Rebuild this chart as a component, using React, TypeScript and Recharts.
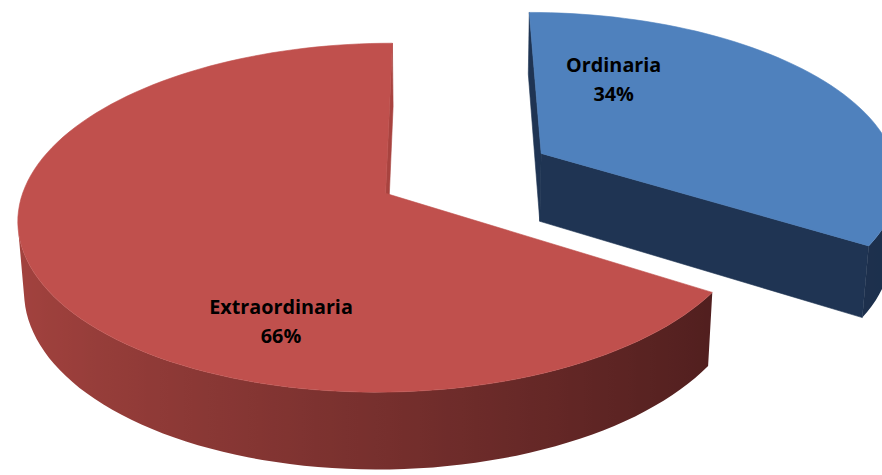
import { PieChart, Pie } from 'recharts';

const CATEGORIES = ['Ordinaria', 'Extraordinaria'];
const SHARES = [34, 66];

const data = CATEGORIES.map((name, i) => ({ name, value: SHARES[i] }));

const TOP_FILL = ['#4f81bd', '#c0504d'];
const FACE_FILL = ['#1f3453', '#a8433f'];
const SIDE_LIGHT = ['#24395c', '#a4433f'];
const SIDE_DARK = ['#1c2f4c', '#4a1c1c'];
// where each label sits, polar offset from its own slice centre
const LABEL_AT = [{ a: 64, r: 0.545 }, { a: 250, r: 0.72 }];

const WIDTH = 882;
const HEIGHT = 475;

// fake 3d camera, units of pie radius
const RAD = Math.PI / 180;
const TILT = 26.5 * RAD;
const DIST = 6.5;
const FX = 2320;
const FY = 2410;
const VX = 441.5;
const VY = 173;
const CAM_X = -0.065;
const THICK = 0.21;
const EXPLODE = 0.25;

const sinT = Math.sin(TILT);
const cosT = Math.cos(TILT);
const CAM_Z = -DIST * cosT;

const project = (x: number, y: number, z: number): [number, number] => {
  const py = y - DIST * sinT;
  const pz = z + DIST * cosT;
  const d = -py * sinT + pz * cosT;
  const v = py * cosT + pz * sinT;
  return [VX + (FX * (x - CAM_X)) / d, VY - (FY * v) / d];
};

const toPoints = (pts: [number, number][]) =>
  pts.map(p => `${p[0].toFixed(1)},${p[1].toFixed(1)}`).join(' ');

const hex = (c: string) => [1, 3, 5].map(i => parseInt(c.slice(i, i + 2), 16));
const mix = (a: string, b: string, t: number) => {
  const ca = hex(a);
  const cb = hex(b);
  return `rgb(${ca.map((v, i) => Math.round(v + (cb[i] - v) * t)).join(',')})`;
};

const facing = (nx: number, nz: number, px: number, pz: number) =>
  nx * (CAM_X - px) + nz * (CAM_Z - pz) > 0;

const sliceOffset = (start: number, end: number) => {
  const mid = ((start + end) / 2) * RAD;
  return [EXPLODE * Math.cos(mid), EXPLODE * Math.sin(mid)];
};

const Slice3D = (props: any) => {
  const { startAngle, endAngle, index } = props;
  const [ox, oz] = sliceOffset(startAngle, endAngle);
  const steps = Math.max(8, Math.ceil(Math.abs(startAngle - endAngle) / 2));
  const angles = Array.from({ length: steps + 1 }, (_, k) => startAngle + ((endAngle - startAngle) * k) / steps);
  const rim = (a: number, y: number) => project(ox + Math.cos(a * RAD), y, oz + Math.sin(a * RAD));

  const faces = [
    [startAngle, startAngle + 90],
    [endAngle, endAngle - 90],
  ].filter(([a, n]) =>
    facing(Math.cos(n * RAD), Math.sin(n * RAD), ox + 0.5 * Math.cos(a * RAD), oz + 0.5 * Math.sin(a * RAD)),
  );

  // visible run of the outer wall
  const wall: number[] = [];
  for (let k = 0; k <= steps; k++) {
    const a = angles[k] * RAD;
    if (facing(Math.cos(a), Math.sin(a), ox + Math.cos(a), oz + Math.sin(a))) wall.push(angles[k]);
  }
  const upper = wall.map(a => rim(a, 0));
  const lower = wall.map(a => rim(a, -THICK)).reverse();
  const xs = upper.map(p => p[0]);
  const x1 = Math.min(...xs);
  const x2 = Math.max(...xs);
  const gid = `wall-${index}`;
  const stops = wall
    .map((a, k) => ({
      offset: x2 > x1 ? (xs[k] - x1) / (x2 - x1) : 0,
      color: mix(SIDE_DARK[index], SIDE_LIGHT[index], (1 - Math.cos(a * RAD)) / 2),
    }))
    .sort((p, q) => p.offset - q.offset);

  const top: [number, number][] = [project(ox, 0, oz), ...angles.map(a => rim(a, 0))];

  return (
    <g>
      {wall.length > 1 && (
        <defs>
          <linearGradient id={gid} gradientUnits="userSpaceOnUse" x1={x1} y1={0} x2={x2} y2={0}>
            {stops.map((s, k) => (
              <stop key={k} offset={s.offset} stopColor={s.color} />
            ))}
          </linearGradient>
        </defs>
      )}
      {faces.map(([a]) => (
        <polygon
          key={`f${a}`}
          points={toPoints([project(ox, 0, oz), rim(a, 0), rim(a, -THICK), project(ox, -THICK, oz)])}
          fill={FACE_FILL[index]}
          stroke={FACE_FILL[index]}
          strokeWidth={0.6}
        />
      ))}
      {wall.length > 1 && <polygon points={toPoints([...upper, ...lower])} fill={`url(#${gid})`} />}
      <polygon points={toPoints(top)} fill={TOP_FILL[index]} stroke={TOP_FILL[index]} strokeWidth={0.6} />
    </g>
  );
};

const renderLabel = (props: any) => {
  const { startAngle, endAngle, index } = props;
  const [ox, oz] = sliceOffset(startAngle, endAngle);
  const { a, r } = LABEL_AT[index];
  const [x, y] = project(ox + r * Math.cos(a * RAD), 0, oz + r * Math.sin(a * RAD));
  return (
    <text
      x={x}
      y={y}
      textAnchor="middle"
      fontFamily="'Open Sans', sans-serif"
      fontWeight={700}
      fontSize={19.8}
      fill="#000"
    >
      <tspan x={x} y={y - 7.5}>{CATEGORIES[index]}</tspan>
      <tspan x={x} y={y + 21.5}>{`${SHARES[index]}%`}</tspan>
    </text>
  );
};

export default function App() {
  return (
    <div style={{ position: 'fixed', left: 0, top: 0, width: WIDTH, height: HEIGHT, background: '#fff' }}>
      <PieChart width={WIDTH} height={HEIGHT} margin={{ top: 0, right: 0, bottom: 0, left: 0 }}>
        <Pie
          data={data}
          dataKey="value"
          nameKey="name"
          cx={VX}
          cy={VY}
          outerRadius={100}
          startAngle={90}
          endAngle={-270}
          stroke="none"
          shape={Slice3D}
          label={renderLabel}
          labelLine={false}
          isAnimationActive={false}
        />
      </PieChart>
    </div>
  );
}
